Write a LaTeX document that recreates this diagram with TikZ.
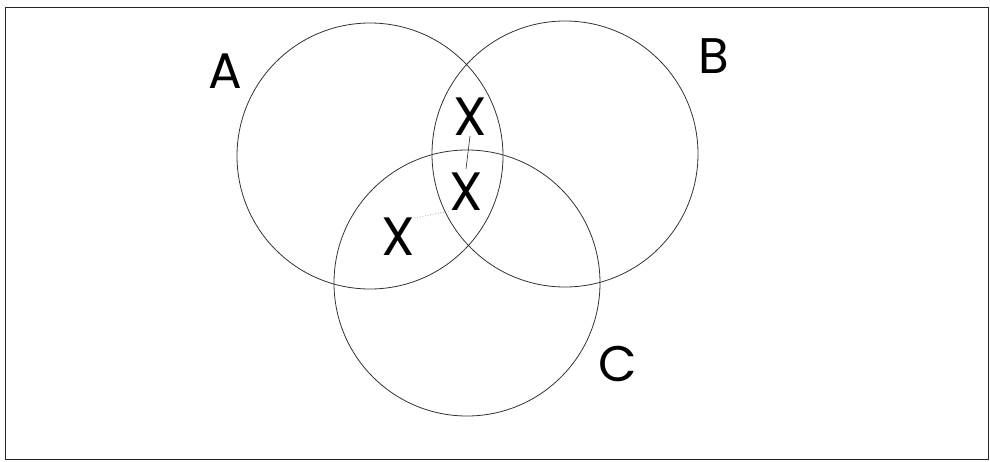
\documentclass[tikz,border=0pt]{standalone}
\usepackage{fontspec}
\setmainfont{Poppins}
\usepackage{tikz}
\usetikzlibrary{positioning}

\begin{document}
\begin{tikzpicture}[x=1pt,y=-1pt,
  ring/.style={draw=black!80,circle,line width=0.8pt,minimum size=266pt,inner sep=0pt},
  lab/.style={font=\fontsize{50}{50}\selectfont,inner sep=0pt},
  xmark/.style={font=\fontsize{54}{54}\selectfont,inner sep=0pt},
  link/.style={black!85,line width=0.6pt}]
\useasboundingbox (0,0) rectangle (990,461);
\draw[black!85,line width=0.8pt] (5,7) rectangle (988,459);
\node[ring] (setA) at (370,156) {};
\node[ring] (setB) at (565,154) {};
\node[ring] (setC) at (467,283) {};
\node[lab] (labA) at (225,71) {A};
\node[lab] (labB) at (714,56) {B};
\node[lab] (labC) at (618,364) {C};
\node[xmark] (xAB) at (470,117) {X};
\node[xmark] (xABC) at (466,192) {X};
\node[xmark] (xAC) at (398,237) {X};
\draw[link] (xAB.south) -- ([yshift=4pt]xABC.north);
\draw[link,dotted,black!60] (xAC.north east) -- (xABC.south west);
\end{tikzpicture}
\end{document}
